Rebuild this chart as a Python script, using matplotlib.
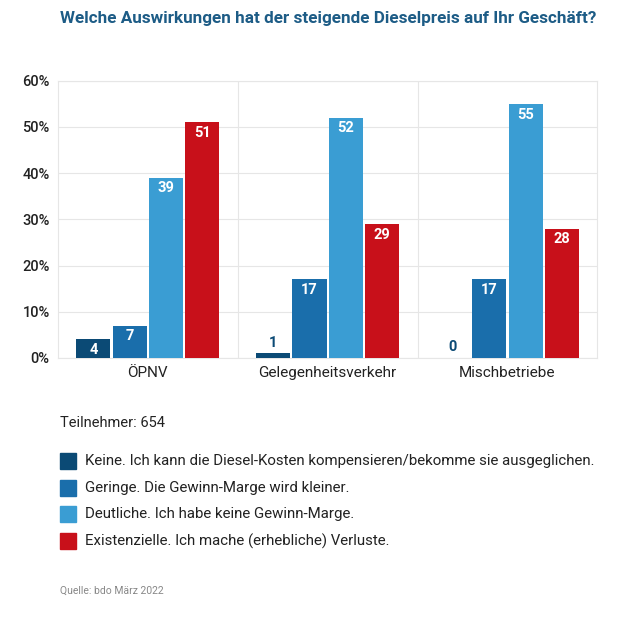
import matplotlib
matplotlib.use("Agg")
import matplotlib.pyplot as plt
import numpy as np
from matplotlib.patches import Rectangle

categories = ["ÖPNV", "Gelegenheitsverkehr", "Mischbetriebe"]
series_names = [
    "Keine. Ich kann die Diesel-Kosten kompensieren/bekomme sie ausgeglichen.",
    "Geringe. Die Gewinn-Marge wird kleiner.",
    "Deutliche. Ich habe keine Gewinn-Marge.",
    "Existenzielle. Ich mache (erhebliche) Verluste.",
]
keine = [4, 1, 0]
geringe = [7, 17, 17]
deutliche = [39, 52, 55]
existenzielle = [51, 29, 28]
yticks = [0, 10, 20, 30, 40, 50, 60]
colors = ["#0b4a75", "#1a6eab", "#3a9dd3", "#c8101a"]

plt.rcParams['font.family'] = ['Roboto', 'DejaVu Sans']

fig = plt.figure(figsize=(6.2, 6.17), dpi=100)
ax = fig.add_axes([0.0935, 0.42, 0.87, 0.449])

series = [keine, geringe, deutliche, existenzielle]
x = np.arange(len(categories))
bw = 0.19
gap = 0.012
offsets = (np.arange(4) - 1.5) * (bw + gap)
for i, vals in enumerate(series):
    ax.bar(x + offsets[i], vals, width=bw, color=colors[i], zorder=3)
    for xi, v in zip(x, vals):
        if v >= 3:
            ax.text(xi + offsets[i], v - 0.8, f"{v}", ha="center", va="top",
                    color="white", fontsize=10.5, fontweight="bold", zorder=4)
        else:
            ax.text(xi + offsets[i], v + 0.8, f"{v}", ha="center", va="bottom",
                    color="#0b4a75", fontsize=10.5, fontweight="bold", zorder=4)

ax.set_xlim(-0.5, 2.5)
ax.set_ylim(0, 60)
ax.set_yticks(yticks)
ax.set_yticklabels([f"{t}%" for t in yticks], fontsize=10.5, fontweight="medium")
ax.set_xticks(x)
ax.set_xticklabels(categories, fontsize=11)
ax.tick_params(length=0, pad=6, colors="#222222")
ax.yaxis.grid(True, color="#e6e6e6", linewidth=0.8, zorder=0)
for b in [0.5, 1.5]:
    ax.axvline(b, color="#e6e6e6", linewidth=0.8, zorder=0)
for s in ax.spines.values():
    s.set_color("#e6e6e6")
    s.set_linewidth(0.8)

fig.text(0.530, 0.970, "Welche Auswirkungen hat der steigende Dieselpreis auf Ihr Geschäft?",
         ha="center", va="center", fontsize=12.3, fontweight="bold", color="#1d5c86")

fig.text(0.097, 0.314, "Teilnehmer: 654", ha="left", va="center", fontsize=10.5, color="#222222")

leg_y = [461, 488, 514, 541]
for i, (name, yy) in enumerate(zip(series_names, leg_y)):
    yf = 1 - yy / 617
    fig.patches.append(Rectangle((60 / 620, yf - 8 / 617), 16 / 620, 16 / 617,
                                 transform=fig.transFigure, color=colors[i]))
    fig.text(85 / 620, yf, name, ha="left", va="center", fontsize=10.8, color="#222222")

fig.text(0.097, 1 - 591 / 617, "Quelle: bdo März 2022", ha="left", va="center",
         fontsize=7.5, color="#888888")

fig.savefig("out.png", dpi=100, facecolor="white")
